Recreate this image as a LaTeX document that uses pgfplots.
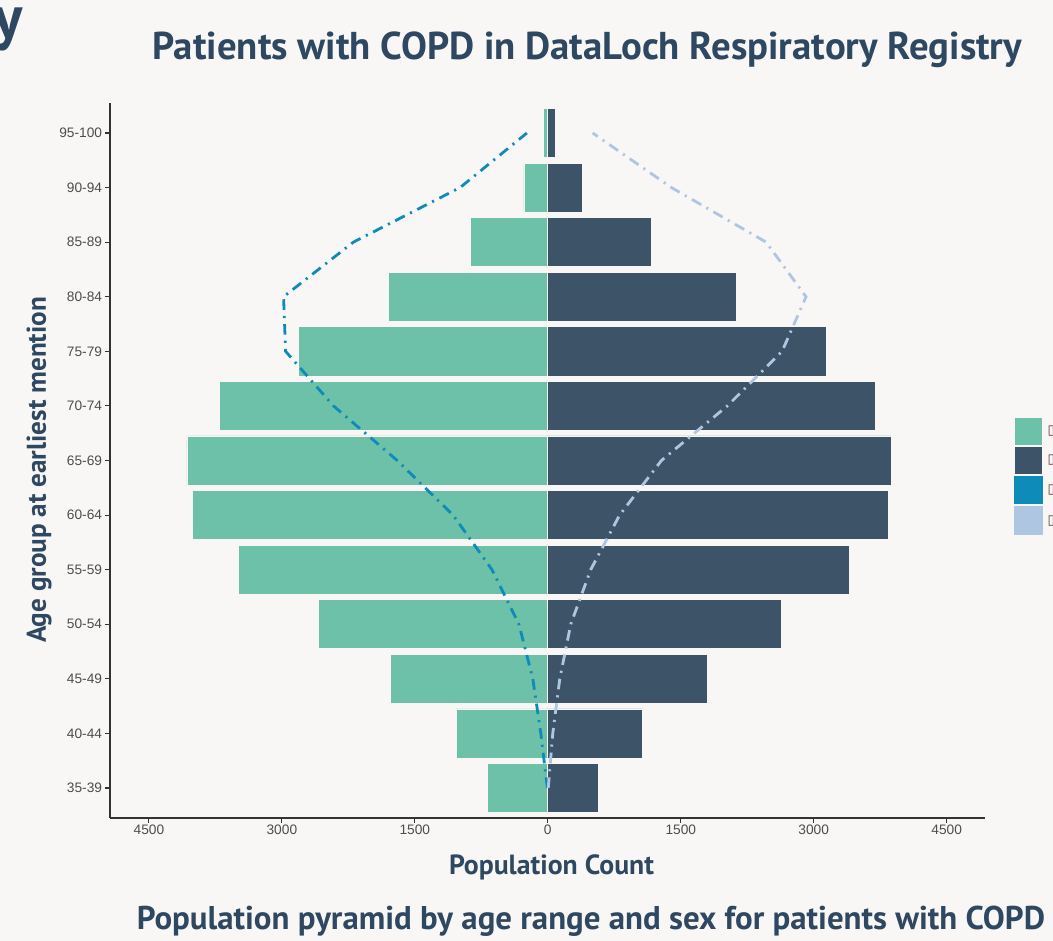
\documentclass[border=0pt]{standalone}
\usepackage{pgfplots}
\pgfplotsset{compat=1.18}
\usepackage{fontspec}
\setmainfont{Liberation Sans}
\newfontfamily\titlefont{PT Sans}
\newfontfamily\symfont{DejaVu Sans}
\definecolor{bg}{RGB}{248,247,245}
\definecolor{titlecol}{RGB}{47,72,97}
\definecolor{femcol}{RGB}{108,193,168}
\definecolor{malecol}{RGB}{61,84,104}
\definecolor{femline}{RGB}{15,139,186}
\definecolor{maleline}{RGB}{175,198,226}
\definecolor{axiscol}{RGB}{51,51,51}
\definecolor{tickcol}{RGB}{77,77,77}
\definecolor{tofu}{RGB}{90,50,50}
\begin{document}
\begin{tikzpicture}
\begin{scope}[x=0.75pt,y=-0.75pt,shift={(-82.5pt,613.5pt)}]
\fill[bg] (0,0) rectangle (1053,941);
\end{scope}
\begin{axis}[
  at={(0,0)}, anchor=south west,
  scale only axis, width=656.25pt, height=536.25pt,
  xmin=-4939, xmax=4932, ymin=-0.55, ymax=12.55,
  axis x line*=bottom, axis y line*=left,
  axis line style={draw=axiscol, line width=0.8pt},
  xtick={-4500,-3000,-1500,0,1500,3000,4500},
  xticklabels={4500,3000,1500,0,1500,3000,4500},
  ytick={0,1,2,3,4,5,6,7,8,9,10,11,12},
  yticklabels={35-39,40-44,45-49,50-54,55-59,60-64,65-69,70-74,75-79,80-84,85-89,90-94,95-100},
  tick align=outside, major tick length=3.75pt,
  tick style={draw=axiscol, line width=0.8pt},
  ticklabel style={font=\fontsize{10.3}{12}\selectfont, text=tickcol},
  xticklabel style={inner sep=1.5pt},
  yticklabel style={inner sep=2pt},
  /pgf/number format/assume math mode=true,
  legend style={at={(1.0331,0.5594)}, anchor=north west, draw=none, fill=none,
    font=\fontsize{10}{12}\selectfont, row sep=1.5pt, inner sep=0pt,
    nodes={inner sep=0pt}, /tikz/every odd column/.append style={column sep=3.5pt}},
  legend cell align=left,
]
\addplot[xbar, bar width=0.9, bar shift=0pt, fill=femcol, draw=bg, line width=0.5pt,
  legend image code/.code={\fill[femcol,solid] (0pt,-9.75pt) rectangle (19.5pt,9.75pt);}]
  coordinates {(-686,0) (-1035,1) (-1777,2) (-2587,3) (-3487,4) (-4005,5) (-4072,6) (-3701,7) (-2812,8) (-1800,9) (-877,10) (-270,11) (-45,12)};
\addlegendentry{\textcolor{tofu}{\symfont ▯}}
\addplot[xbar, bar width=0.9, bar shift=0pt, fill=malecol, draw=bg, line width=0.5pt,
  legend image code/.code={\fill[malecol,solid] (0pt,-9.75pt) rectangle (19.5pt,9.75pt);}]
  coordinates {(574,0) (1069,1) (1800,2) (2632,3) (3397,4) (3847,5) (3870,6) (3690,7) (3138,8) (2126,9) (1170,10) (394,11) (90,12)};
\addlegendentry{\textcolor{tofu}{\symfont ▯}}
\addplot[femline, line width=2.1pt, line cap=butt, dash pattern=on 8pt off 4.5pt on 1.6pt off 4.5pt, no marks,
  legend image code/.code={\fill[femline,solid] (0pt,-9.75pt) rectangle (19.5pt,9.75pt);}]
  coordinates {(-5,0) (-79,1) (-169,2) (-326,3) (-630,4) (-1069,5) (-1699,6) (-2418,7) (-2958,8) (-2981,9) (-2194,10) (-990,11) (-236,12)};
\addlegendentry{\textcolor{tofu}{\symfont ▯}}
\addplot[maleline, line width=2.1pt, line cap=butt, dash pattern=on 8pt off 4.5pt on 1.6pt off 4.5pt, no marks,
  legend image code/.code={\fill[maleline,solid] (0pt,-9.75pt) rectangle (19.5pt,9.75pt);}]
  coordinates {(5,0) (56,1) (135,2) (259,3) (484,4) (810,5) (1282,6) (2025,7) (2643,8) (2913,9) (2463,10) (1395,11) (506,12)};
\addlegendentry{\textcolor{tofu}{\symfont ▯}}
\end{axis}
\begin{scope}[x=0.75pt,y=-0.75pt,shift={(-82.5pt,613.5pt)}]
\node[anchor=base east, inner sep=0pt, text=titlecol] at (23,39) {\titlefont\bfseries\fontsize{46}{50}\selectfont Registry};
\node[anchor=base, inner sep=0pt, text=titlecol] at (587.5,60) {\resizebox{651.75pt}{!}{\titlefont\bfseries Patients with COPD in DataLoch Respiratory Registry}};
\node[anchor=base, inner sep=0pt, text=titlecol] at (551.5,875) {\resizebox{153.75pt}{!}{\titlefont\bfseries Population Count}};
\node[anchor=base, inner sep=0pt, text=titlecol, rotate=90] at (46,470) {\resizebox{259.5pt}{!}{\titlefont\bfseries Age group at earliest mention}};
\node[anchor=base, inner sep=0pt, text=titlecol] at (591,930) {\resizebox{681pt}{!}{\titlefont\bfseries Population pyramid by age range and sex for patients with COPD}};
\pgfresetboundingbox
\path[use as bounding box] (0,0) rectangle (1053,941);
\end{scope}
\end{tikzpicture}
\end{document}
